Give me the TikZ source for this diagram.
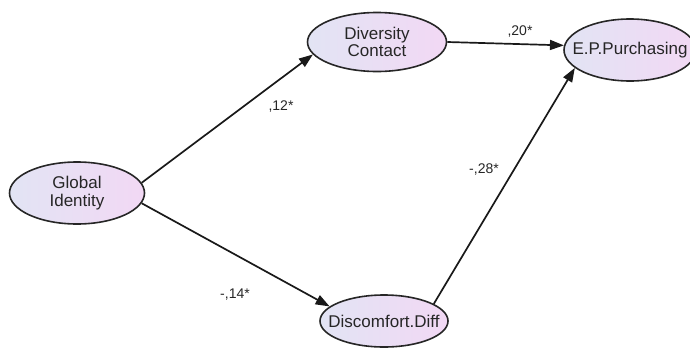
\documentclass[tikz,border=0pt]{standalone}
\usepackage{fontspec}
\setmainfont{Liberation Sans}
\usetikzlibrary{shapes.geometric,arrows.meta}
\begin{document}
\begin{tikzpicture}[x=1pt,y=-1pt,
  latent/.style={ellipse,draw=black!85,line width=1.6pt,left color=ellL,right color=ellR,
    inner ysep=0pt,inner xsep=-20pt,font=\fontsize{17}{17.5}\selectfont,align=center,text=black!85},
  path/.style={line width=1.7pt,draw=black!90,-{Triangle[length=14pt,width=10pt]}},
  coef/.style={font=\fontsize{14}{15}\selectfont,text=black!85}]
\definecolor{ellL}{HTML}{E2E4F4}
\definecolor{ellR}{HTML}{F2D8F4}
\useasboundingbox (0,0) rectangle (690,351);
\node[latent,minimum width=135pt,minimum height=62pt] (gi) at (77,193) {Global\\Identity};
\node[latent,minimum width=139pt,minimum height=59pt] (dc) at (377,42) {Diversity\\Contact};
\node[latent,minimum width=128pt,minimum height=52pt] (dd) at (384,321) {Discomfort.Diff};
\node[latent,minimum width=132pt,minimum height=62pt] (ep) at (630,50) {E.P.Purchasing};
\draw[path] (gi.9) -- (dc.191);
\draw[path] (gi.-9) -- (dd.165);
\draw[path] (dc.east) -- (ep.176);
\draw[path] (dd.19) -- (ep.198);
\node[coef] (l1) at (281,107) {,12*};
\node[coef] (l2) at (520,32) {,20*};
\node[coef] (l3) at (484,170) {-,28*};
\node[coef] (l4) at (235,295) {-,14*};
\end{tikzpicture}
\end{document}
